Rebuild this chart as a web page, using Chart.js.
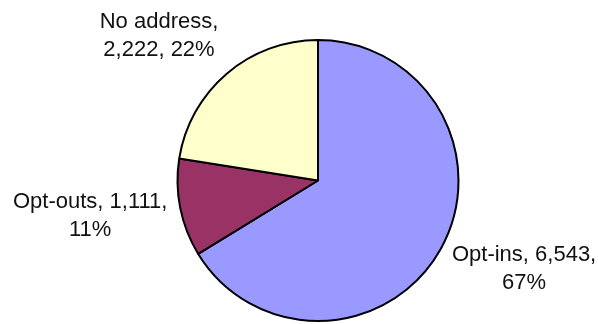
<!DOCTYPE html>
<html>
<head>
<meta charset="utf-8">
<script src="https://cdn.jsdelivr.net/npm/chart.js@4"></script>
<style>
  html, body { margin: 0; padding: 0; background: #fff; }
  #wrap { width: 598px; height: 324px; }
</style>
</head>
<body>
<div id="wrap"><canvas id="myChart" width="598" height="324"></canvas></div>
<script>
const categories = ['Opt-ins', 'Opt-outs', 'No address'];
const counts = [6543, 1111, 2222];
const percentLabels = ['67%', '11%', '22%'];
const colors = ['#9999FF', '#993366', '#FFFFCC'];

// label lines, e.g. "Opt-ins, 6,543," / "67%"
const labelLines = [
  [categories[0] + ', ' + counts[0].toLocaleString('en-US') + ',', percentLabels[0]],
  [categories[1] + ', ' + counts[1].toLocaleString('en-US') + ',', percentLabels[1]],
  [categories[2] + ',', counts[2].toLocaleString('en-US') + ', ' + percentLabels[2]]
];

// Draw Excel style outside-end labels next to each slice
const outsideLabels = {
  id: 'outsideLabels',
  afterDatasetsDraw(chart) {
    const c = chart.ctx;
    const meta = chart.getDatasetMeta(0);
    const lineH = 28;
    c.save();
    c.font = '22px "Liberation Sans", Arial, sans-serif';
    c.fillStyle = '#111';
    c.textBaseline = 'middle';
    c.textAlign = 'center';
    meta.data.forEach(function(arc, i) {
      const p = arc.getProps(['x', 'y', 'startAngle', 'endAngle', 'outerRadius'], true);
      const mid = (p.startAngle + p.endAngle) / 2;
      const cos = Math.cos(mid), sin = Math.sin(mid);
      const d = p.outerRadius + 13;
      const px = p.x + cos * d;
      const py = p.y + sin * d;
      const lines = labelLines[i];
      const w = Math.max.apply(null, lines.map(l => c.measureText(l).width));
      const h = lines.length * lineH;
      const cx = cos >= 0 ? px + w / 2 : px - w / 2;
      const cy = py + sin * (h / 2 + (sin < -0.5 ? 9 : 0));
      lines.forEach(function(l, j) {
        c.fillText(l, cx, cy - h / 2 + lineH * (j + 0.5));
      });
    });
    c.restore();
  }
};

new Chart(document.getElementById('myChart'), {
  type: 'pie',
  data: {
    labels: categories,
    datasets: [{
      data: counts,
      backgroundColor: colors,
      borderColor: '#000',
      borderWidth: 2
    }]
  },
  options: {
    responsive: false,
    animation: false,
    layout: { padding: { left: 176, right: 138, top: 39, bottom: 2 } },
    plugins: {
      legend: { display: false },
      tooltip: { enabled: false }
    }
  },
  plugins: [outsideLabels]
});
</script>
</body>
</html>
